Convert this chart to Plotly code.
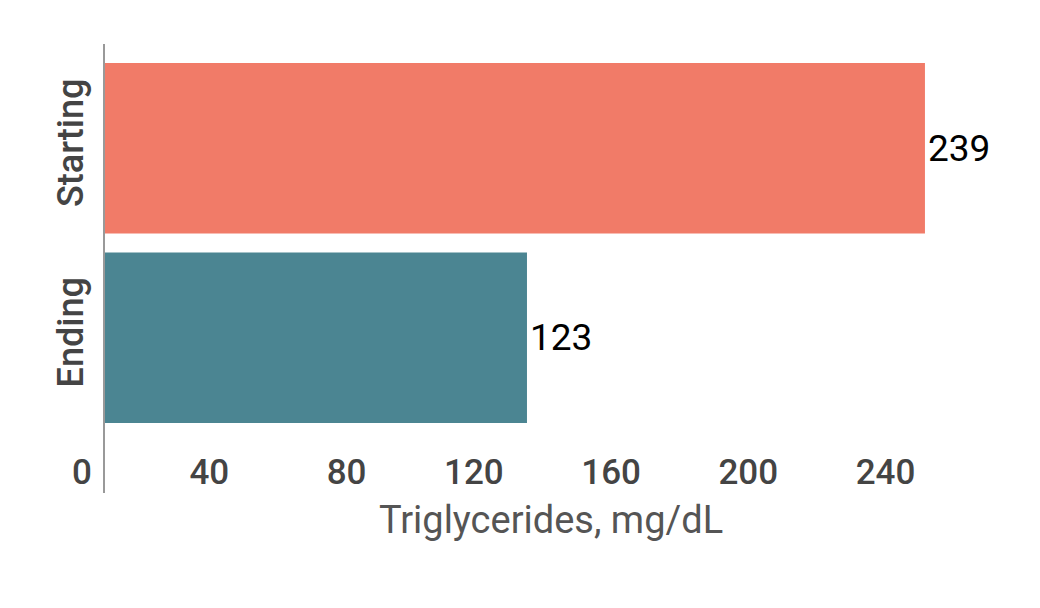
import plotly.graph_objs as go

categories = ['Starting', 'Ending']
values = [239, 123]
colors = ['#F17B68', '#4B8592']
tick_vals = [0, 40, 80, 120, 160, 200, 240]

trace = go.Bar(
    x=values, y=categories, orientation='h',
    marker=dict(color=colors, line=dict(width=0)),
    text=[str(v) for v in values], textposition='outside',
    textfont=dict(family='Roboto', size=37, color='#000000'),
    cliponaxis=False,
)

# page body has an 8px margin, so the figure is a bit smaller than the window
layout = go.Layout(
    width=1032, height=600,
    margin=dict(l=97, r=43, t=36, b=115),
    paper_bgcolor='white', plot_bgcolor='white',
    bargap=0.1,
    showlegend=False,
    xaxis=dict(
        range=[0, 260], tickvals=tick_vals, automargin=False,
        showgrid=False, zeroline=False, showline=False,
        ticks='', ticklabelposition='outside left',
        ticklabelstandoff=-45, ticklabelshift=-13,
        tickfont=dict(family='Roboto', size=35, color='#444444', weight=500),
        title=dict(text='Triglycerides, mg/dL', standoff=14,
                   font=dict(family='Roboto', size=38, color='#555555')),
    ),
    yaxis=dict(
        categoryorder='array', categoryarray=['Ending', 'Starting'],
        range=[-0.82, 1.55], automargin=False,
        showgrid=False, zeroline=False,
        showline=True, linecolor='#999999', linewidth=2,
        ticks='', tickangle=-90, ticklabelstandoff=6,
        tickfont=dict(family='Roboto', size=36, color='#444444', weight=500),
    ),
)

fig = go.Figure(data=[trace], layout=layout)
fig.write_html('out.html')
